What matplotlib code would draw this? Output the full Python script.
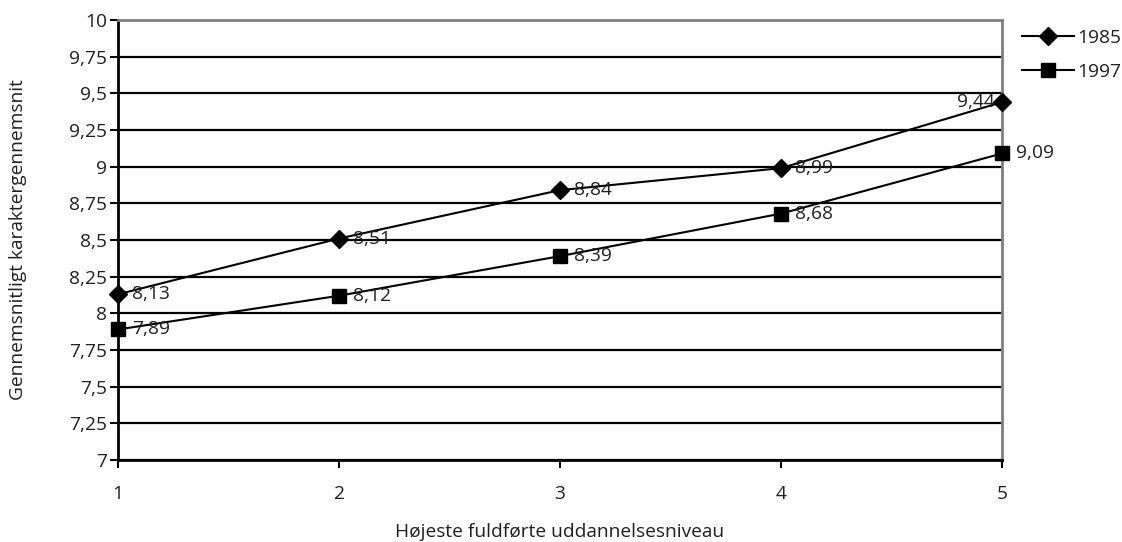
import matplotlib
matplotlib.use("Agg")
import matplotlib.pyplot as plt
import numpy as np

plt.rcParams['font.family'] = ['Open Sans', 'DejaVu Sans']

niveau = [1, 2, 3, 4, 5]
karakter_1985 = [8.13, 8.51, 8.84, 8.99, 9.44]
karakter_1997 = [7.89, 8.12, 8.39, 8.68, 9.09]
y_ticks = np.arange(7, 10.01, 0.25)
y_labels = ["7", "7,25", "7,5", "7,75", "8", "8,25", "8,5", "8,75",
            "9", "9,25", "9,5", "9,75", "10"]

FS = 13.8


def fmt(v):
    return f"{v:.2f}".replace(".", ",")


fig = plt.figure(figsize=(11.22, 5.42), dpi=100)
ax = fig.add_axes([0.1052, 0.1513, 0.7879, 0.8118])

ax.set_xlim(1, 5)
ax.set_ylim(7, 10)
ax.set_yticks(y_ticks)
ax.set_yticklabels(y_labels)
ax.set_xticks(niveau)
ax.yaxis.grid(True, color='black', linewidth=1.6)
ax.set_axisbelow(True)

l1, = ax.plot(niveau, karakter_1985, color='black', linewidth=1.5,
              marker='D', markersize=9, label='1985', clip_on=False, zorder=3)
l2, = ax.plot(niveau, karakter_1997, color='black', linewidth=1.5,
              marker='s', markersize=10.5, label='1997', clip_on=False, zorder=3)

# value labels next to the markers
for x, v in zip(niveau, karakter_1985):
    if x == 5:
        ax.annotate(fmt(v), (x, v), xytext=(-5, 0), textcoords='offset points',
                    ha='right', va='center', fontsize=FS, color='#202020')
    else:
        ax.annotate(fmt(v), (x, v), xytext=(10, 0), textcoords='offset points',
                    ha='left', va='center', fontsize=FS, color='#202020')
for x, v in zip(niveau, karakter_1997):
    ax.annotate(fmt(v), (x, v), xytext=(10, 0), textcoords='offset points',
                ha='left', va='center', fontsize=FS, color='#202020')

for side in ['top', 'right']:
    ax.spines[side].set_color('#808080')
    ax.spines[side].set_linewidth(2)
for side in ['left', 'bottom']:
    ax.spines[side].set_color('black')
    ax.spines[side].set_linewidth(2)

ax.tick_params(axis='both', direction='out', length=6, width=1.5,
               labelsize=FS, colors='black', labelcolor='#202020')
ax.tick_params(axis='y', pad=2)
ax.tick_params(axis='x', pad=12)

fig.text(560 / 1122, 1 - 532 / 542, "Højeste fuldførte uddannelsesniveau",
         ha='center', va='center', fontsize=FS, color='#202020')
fig.text(18 / 1122, 1 - 240 / 542, "Gennemsnitligt karaktergennemsnit",
         ha='center', va='center', rotation=90, fontsize=FS, color='#202020')

fig.legend(handles=[l1, l2], loc='upper left', bbox_to_anchor=(0.904, 0.961),
           frameon=False, fontsize=FS, handlelength=2.7, handletextpad=0.2,
           labelspacing=0.85, borderaxespad=0, labelcolor='#202020')

fig.savefig("out.png", dpi=100)
